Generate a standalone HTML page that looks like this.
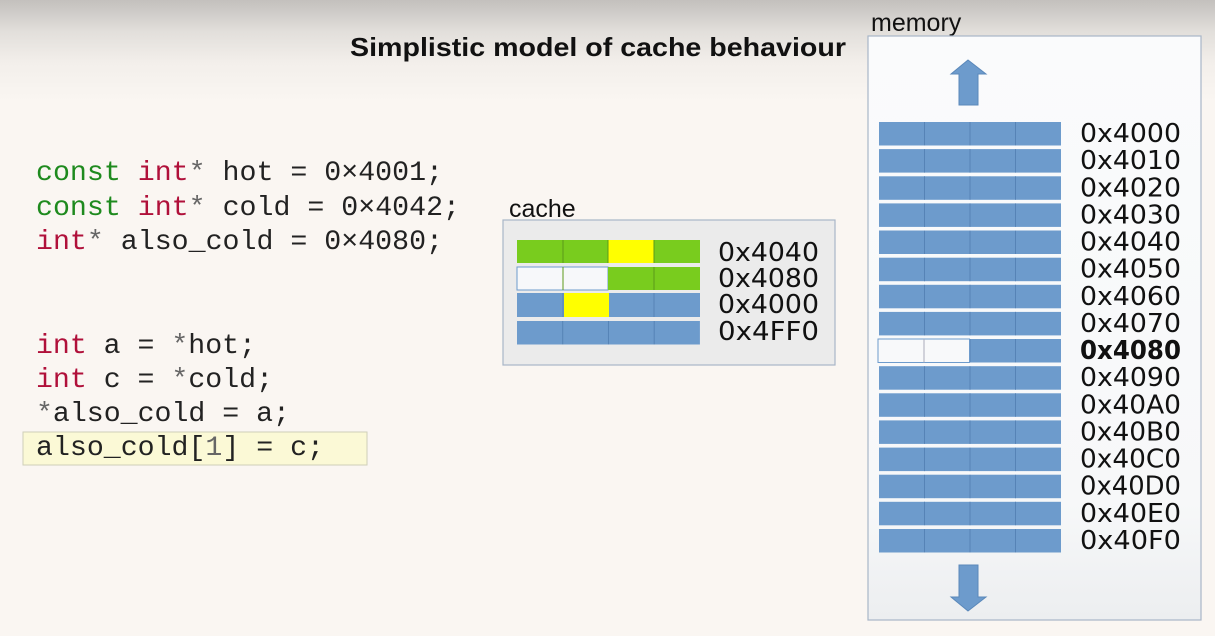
<!DOCTYPE html>
<html><head><meta charset="utf-8"><style>
html,body{margin:0;padding:0;width:1215px;height:636px;overflow:hidden;background:#faf6f2}
svg{display:block}
.m{font-family:"Liberation Mono","DejaVu Sans Mono",monospace;font-size:28px;fill:#222}
.k{fill:#b0103a}.g{fill:#1e8a1e}.n{fill:#666}
.l{font-family:"DejaVu Sans","Liberation Sans",sans-serif;font-size:26px;fill:#111}
</style></head><body>
<svg width="1215" height="636" xmlns="http://www.w3.org/2000/svg">
<defs>
<linearGradient id="bg" x1="0" y1="0" x2="0" y2="636" gradientUnits="userSpaceOnUse">
<stop offset="0" stop-color="#c3c0bd"/><stop offset="0.05" stop-color="#e2dfdb"/><stop offset="0.1" stop-color="#f3efeb"/><stop offset="0.16" stop-color="#faf6f2"/><stop offset="1" stop-color="#faf6f2"/>
</linearGradient>
<linearGradient id="mem" x1="0" y1="0" x2="0" y2="1">
<stop offset="0" stop-color="#fafbfc"/><stop offset="0.8" stop-color="#f7f8f9"/><stop offset="1" stop-color="#eceef0"/>
</linearGradient>
<g id="row">
<rect x="0" y="0" width="182" height="23.5" fill="#6d9bcc"/>
<path d="M45.5 0V23.5M91 0V23.5M136.5 0V23.5" stroke="#5683b6" stroke-width="1"/>
</g>
</defs>
<rect width="1215" height="636" fill="url(#bg)"/>

<text x="350" y="56" font-family="Liberation Sans,sans-serif" font-weight="bold" font-size="26" textLength="496" lengthAdjust="spacingAndGlyphs" fill="#111">Simplistic model of cache behaviour</text>

<!-- code -->
<text class="m" x="36" y="180" textLength="407" lengthAdjust="spacingAndGlyphs"><tspan class="g">const</tspan> <tspan class="k">int</tspan><tspan class="n">*</tspan> hot = 0×4001;</text>
<text class="m" x="36" y="215" textLength="424" lengthAdjust="spacingAndGlyphs"><tspan class="g">const</tspan> <tspan class="k">int</tspan><tspan class="n">*</tspan> cold = 0×4042;</text>
<text class="m" x="36" y="249" textLength="407" lengthAdjust="spacingAndGlyphs"><tspan class="k">int</tspan><tspan class="n">*</tspan> also_cold = 0×4080;</text>
<text class="m" x="36" y="353" textLength="220" lengthAdjust="spacingAndGlyphs"><tspan class="k">int</tspan> a = <tspan class="n">*</tspan>hot;</text>
<text class="m" x="36" y="387" textLength="237" lengthAdjust="spacingAndGlyphs"><tspan class="k">int</tspan> c = <tspan class="n">*</tspan>cold;</text>
<text class="m" x="36" y="421" textLength="254" lengthAdjust="spacingAndGlyphs"><tspan class="n">*</tspan>also_cold = a;</text>
<rect x="23" y="432" width="344" height="33" fill="#fbf9d6" stroke="#cfcfb8" stroke-width="1"/>
<text class="m" x="36" y="455" textLength="288" lengthAdjust="spacingAndGlyphs">also_cold[<tspan class="n">1</tspan>] = c;</text>

<!-- cache -->
<text x="509" y="217" font-family="Liberation Sans,sans-serif" font-size="25" fill="#111">cache</text>
<rect x="503" y="220" width="332" height="145" fill="#ebebeb" stroke="#a8b6c8" stroke-width="1.2"/>
<g>
<rect x="517" y="240" width="183" height="23" fill="#79cc1e"/>
<rect x="608" y="240" width="46" height="23" fill="#ffff00"/>
<path d="M563 240v23M608 240v23M654 240v23" stroke="#5c9a1a"/>
<rect x="517" y="267" width="91" height="23" fill="#f7f8fa" stroke="#6d9bcc"/>
<rect x="608" y="267" width="92" height="23" fill="#79cc1e"/>
<path d="M563 267v23M654 267v23" stroke="#5c9a1a"/>
<rect x="517" y="293" width="183" height="24" fill="#6d9bcc"/>
<rect x="564" y="293" width="45" height="24" fill="#ffff00"/>
<path d="M563 293v24M654 293v24" stroke="#5683b6"/>
<use href="#row" x="517" y="321" transform="translate(517 321) scale(1.005 1) translate(-517 -321)"/>
</g>
<text class="l" x="718" y="261" textLength="101" lengthAdjust="spacingAndGlyphs">0x4040</text>
<text class="l" x="718" y="287" textLength="101" lengthAdjust="spacingAndGlyphs">0x4080</text>
<text class="l" x="718" y="313" textLength="101" lengthAdjust="spacingAndGlyphs">0x4000</text>
<text class="l" x="718" y="340" textLength="101" lengthAdjust="spacingAndGlyphs">0x4FF0</text>

<!-- memory -->
<text x="871" y="31" font-family="Liberation Sans,sans-serif" font-size="25" fill="#111">memory</text>
<rect x="868" y="36" width="333" height="584" fill="url(#mem)" stroke="#a8b6c8" stroke-width="1.2"/>
<path d="M968 60L986 74H978V105H959V74H951Z" fill="#6d9bcc" stroke="#5a88ba"/>
<path d="M968 611L986 597H978V565H959V597H951Z" fill="#6d9bcc" stroke="#5a88ba"/>
<use href="#row" x="879" y="122"/>
<use href="#row" x="879" y="149.1"/>
<use href="#row" x="879" y="176.3"/>
<use href="#row" x="879" y="203.4"/>
<use href="#row" x="879" y="230.5"/>
<use href="#row" x="879" y="257.7"/>
<use href="#row" x="879" y="284.8"/>
<use href="#row" x="879" y="311.9"/>
<use href="#row" x="879" y="339"/>
<rect x="878" y="339" width="91.5" height="23.5" fill="#f8f9fa" stroke="#6d9bcc"/>
<line x1="924" y1="339" x2="924" y2="362.5" stroke="#aab"/>
<use href="#row" x="879" y="366.2"/>
<use href="#row" x="879" y="393.3"/>
<use href="#row" x="879" y="420.4"/>
<use href="#row" x="879" y="447.6"/>
<use href="#row" x="879" y="474.7"/>
<use href="#row" x="879" y="501.8"/>
<use href="#row" x="879" y="529"/>
<g class="l">
<text class="l" x="1080" y="142" textLength="101" lengthAdjust="spacingAndGlyphs">0x4000</text>
<text class="l" x="1080" y="169.1" textLength="101" lengthAdjust="spacingAndGlyphs">0x4010</text>
<text class="l" x="1080" y="196.3" textLength="101" lengthAdjust="spacingAndGlyphs">0x4020</text>
<text class="l" x="1080" y="223.4" textLength="101" lengthAdjust="spacingAndGlyphs">0x4030</text>
<text class="l" x="1080" y="250.5" textLength="101" lengthAdjust="spacingAndGlyphs">0x4040</text>
<text class="l" x="1080" y="277.7" textLength="101" lengthAdjust="spacingAndGlyphs">0x4050</text>
<text class="l" x="1080" y="304.8" textLength="101" lengthAdjust="spacingAndGlyphs">0x4060</text>
<text class="l" x="1080" y="331.9" textLength="101" lengthAdjust="spacingAndGlyphs">0x4070</text>
<text class="l" x="1080" y="359" textLength="101" lengthAdjust="spacingAndGlyphs" font-weight="bold">0x4080</text>
<text class="l" x="1080" y="386.2" textLength="101" lengthAdjust="spacingAndGlyphs">0x4090</text>
<text class="l" x="1080" y="413.3" textLength="101" lengthAdjust="spacingAndGlyphs">0x40A0</text>
<text class="l" x="1080" y="440.4" textLength="101" lengthAdjust="spacingAndGlyphs">0x40B0</text>
<text class="l" x="1080" y="467.6" textLength="101" lengthAdjust="spacingAndGlyphs">0x40C0</text>
<text class="l" x="1080" y="494.7" textLength="101" lengthAdjust="spacingAndGlyphs">0x40D0</text>
<text class="l" x="1080" y="521.8" textLength="101" lengthAdjust="spacingAndGlyphs">0x40E0</text>
<text class="l" x="1080" y="549" textLength="101" lengthAdjust="spacingAndGlyphs">0x40F0</text>
</g>
</svg>
</body></html>
